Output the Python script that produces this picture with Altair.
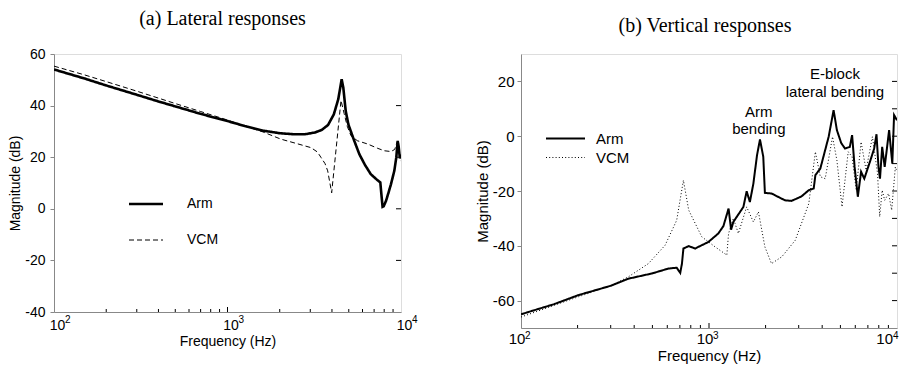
import altair as alt
import pandas as pd

# ---------------- data ----------------
series = ["Arm", "VCM"]

# (a) Lateral responses
a_arm_f = [100, 150, 200, 300, 400, 500, 700, 1000, 1300, 1600, 2000, 2400, 2800, 3200, 3500,
           3800, 4100, 4350, 4550, 4650, 4800, 4970, 5300, 5750, 6200, 6700, 7200, 7600, 7700,
           7830, 7950, 8190, 8450, 8750, 9150, 9400, 9570, 9700, 9850, 10000]
a_arm_db = [54.0, 50.5, 47.8, 44.2, 41.6, 39.7, 36.8, 34.0, 31.8, 30.3, 29.3, 28.9, 28.9, 29.6, 30.6,
            32.5, 36.6, 42.5, 50.2, 47.0, 38.0, 32.8, 27.5, 21.2, 17.0, 13.4, 11.5, 10.2, 6.0,
            0.8, 1.0, 3.0, 6.0, 9.5, 14.7, 20.0, 26.3, 24.0, 19.5, 21.0]
a_vcm_f = [100, 150, 200, 300, 400, 500, 700, 1000, 1300, 1600, 2030, 2500, 3030, 3300, 3459,
           3650, 3780, 3985, 4510, 4700, 4900, 5150, 5600, 6430, 7300, 8000, 8750, 9200, 9450,
           9570, 9750, 10000]
a_vcm_db = [55.3, 51.9, 49.3, 45.6, 42.9, 40.8, 37.7, 34.4, 31.8, 29.8, 27.0, 25.3, 23.7, 22.0, 19.9,
            17.5, 14.7, 6.2, 42.0, 37.0, 32.0, 28.3, 26.4, 25.1, 23.5, 22.5, 22.2, 23.0, 25.5,
            26.3, 22.0, 18.5]

# (b) Vertical responses
b_arm_f = [100, 150, 202, 300, 373, 497, 609, 673, 703, 718, 731, 780, 843, 993, 1121, 1193,
           1271, 1311, 1347, 1524, 1586, 1650, 1722, 1800, 1867, 1944, 1983, 2150, 2535, 2750,
           3100, 3395, 3605, 3680, 3910, 4330, 4600, 4790, 5050, 5290, 5610, 5770, 5950, 6190,
           6440, 6700, 7220, 7560, 7780, 7970, 8120, 8340, 8600, 9080, 9440, 9650, 10000]
b_arm_db = [-65.0, -61.3, -58.0, -54.6, -52.0, -50.1, -48.3, -48.0, -49.9, -46.5, -41.0, -40.1,
            -41.0, -38.6, -35.5, -32.8, -26.4, -34.1, -31.3, -25.8, -20.1, -24.0, -17.3, -7.0,
            -1.2, -7.5, -20.7, -20.9, -23.4, -23.6, -22.0, -19.7, -19.1, -14.2, -11.8, -0.2, 9.5,
            2.2, -2.5, -4.5, -3.9, 0.4, -11.2, -22.1, -13.0, -15.5, -8.8, -4.5, 0.7, -11.2, -15.5,
            -3.9, -11.2, 2.2, -10.0, 7.7, 5.8]
b_vcm_f = [100, 202, 304, 373, 476, 584, 673, 731, 780, 915, 1078, 1244, 1271, 1347, 1433,
           1586, 1722, 1832, 1867, 1983, 2150, 2440, 2875, 3395, 3680, 3910, 4150, 4540, 4790,
           5100, 5500, 5770, 6070, 6440, 6850, 7400, 7880, 8090, 8340, 8600, 9020, 9370, 9800, 10000]
b_vcm_db = [-66.0, -58.6, -54.4, -51.3, -46.5, -39.8, -30.7, -16.1, -27.0, -36.7, -40.4, -43.4,
            -35.5, -30.0, -35.5, -25.8, -31.3, -27.6, -30.7, -40.4, -46.5, -44.0, -38.0, -24.6,
            -5.7, -14.8, -15.5, -0.2, -8.8, -25.8, -5.7, -7.5, -19.7, -2.1, -12.4, -0.2, -13.6,
            -29.4, -19.7, -23.4, -20.9, -27.0, -11.2, -13.0]

x_tick_values = [100, 1000, 10000]
x_exponents = ["2", "3", "4"]
x_minor = [200, 300, 400, 500, 600, 700, 800, 900, 2000, 3000, 4000, 5000, 6000, 7000, 8000, 9000]
a_y_labels = [-40, -20, 0, 20, 40, 60]
a_y_inner = [-20, 0, 20, 40]
b_y_labels = [-60, -40, -20, 0, 20]
b_y_inner = [-60, -50, -40, -30, -20, -10, 0, 10, 20]
notes_text = ["Arm\nbending", "E-block\nlateral bending"]
notes_f = [1841, 4677]
notes_db = [8.9, 22.6]

SANS = "Liberation Sans"
SERIF = "Liberation Serif"


def long_df(arm_f, arm_db, vcm_f, vcm_db):
    d1 = pd.DataFrame({"f": arm_f, "db": arm_db, "s": "Arm"})
    d2 = pd.DataFrame({"f": vcm_f, "db": vcm_db, "s": "VCM"})
    return pd.concat([d1, d2], ignore_index=True)


def panel(df, title, title_dx, ydom, y_labels, y_inner, w, h, fs, leg, dash, widths,
          label_dx, exp_dx, last_exp_dx, last_right, exp_y, exp_fs, label_pad, title_pad,
          ytitle_pad, ylabel_pad, notes=None):
    xs = alt.Scale(type="log", domain=[100, 10000], nice=False)
    ys = alt.Scale(domain=ydom, nice=False, zero=False)
    legend_obj = alt.Legend(
        title=None, orient="none", legendX=leg["x"], legendY=leg["y"],
        symbolType="M-3,0H3", symbolSize=leg["size"], labelFontSize=fs, labelFont=SANS,
        labelOffset=leg["offset"], rowPadding=leg["row"], padding=0, labelColor="black",
        symbolStrokeColor="black",
    )
    label_align = "center"
    if last_right:
        label_align = {"condition": {"test": "datum.value >= 10000", "value": "right"},
                       "value": "center"}
    xaxis = alt.Axis(
        values=x_tick_values, labelExpr="'10'", title="Frequency (Hz)", ticks=False,
        grid=False, labelFontSize=fs, titleFontSize=fs, labelPadding=label_pad,
        titlePadding=title_pad, labelOffset=label_dx, labelAlign=label_align,
        labelFlush=False, titleFontWeight="normal")
    yaxis = alt.Axis(
        values=y_labels, grid=False, tickSize=4, labelPadding=ylabel_pad, title="Magnitude (dB)",
        labelFontSize=fs, titleFontSize=fs, titlePadding=ytitle_pad, titleFontWeight="normal",
        labelExpr="datum.value < 0 ? '-' + abs(datum.value) : '' + datum.value")
    X = lambda: alt.X("f:Q", scale=xs, axis=xaxis)
    Y = lambda: alt.Y("db:Q", scale=ys, axis=yaxis)

    lines = alt.Chart(df).mark_line(clip=True).encode(
        x=X(), y=Y(),
        color=alt.Color("s:N", scale=alt.Scale(domain=series, range=["black", "black"]),
                        legend=legend_obj),
        strokeDash=alt.StrokeDash("s:N", scale=alt.Scale(domain=series, range=dash),
                                  legend=legend_obj),
        strokeWidth=alt.StrokeWidth("s:N", scale=alt.Scale(domain=series, range=widths),
                                    legend=legend_obj),
    )
    yin = alt.Chart(pd.DataFrame({"db": y_inner})).mark_rule(color="black", strokeWidth=1).encode(
        y=Y(), x=alt.value(w - 5), x2=alt.value(w))
    xin_minor = alt.Chart(pd.DataFrame({"f": x_minor})).mark_rule(color="black", strokeWidth=1).encode(
        x=X(), y=alt.value(h - 3), y2=alt.value(h))
    xin_major = alt.Chart(pd.DataFrame({"f": [1000]})).mark_rule(color="black", strokeWidth=1).encode(
        x=X(), y=alt.value(h - 5), y2=alt.value(h))
    exp_df = pd.DataFrame({"f": x_tick_values, "e": x_exponents})
    exps = alt.Chart(exp_df).transform_filter("datum.f < 10000").mark_text(
        align="left", baseline="alphabetic", fontSize=exp_fs, font=SANS, dx=exp_dx, color="black"
    ).encode(x=X(), y=alt.value(h + exp_y), text="e:N")
    exps_last = alt.Chart(exp_df).transform_filter("datum.f >= 10000").mark_text(
        align="left", baseline="alphabetic", fontSize=exp_fs, font=SANS, dx=last_exp_dx, color="black"
    ).encode(x=X(), y=alt.value(h + exp_y), text="e:N")
    layers = [lines, yin, xin_minor, xin_major, exps, exps_last]
    if notes is not None:
        nt = alt.Chart(notes).mark_text(
            lineBreak="\n", align="center", baseline="middle", fontSize=15, font=SANS,
            lineHeight=17.5, color="black"
        ).encode(x=X(), y=Y(), text="t:N")
        layers.append(nt)
    return alt.layer(*layers).properties(
        width=w, height=h,
        title=alt.Title(title, font=SERIF, fontSize=20, fontWeight="normal", offset=18,
                        dx=title_dx, frame="group", anchor="middle", color="black"),
    )


df_a = long_df(a_arm_f, a_arm_db, a_vcm_f, a_vcm_db)
df_b = long_df(b_arm_f, b_arm_db, b_vcm_f, b_vcm_db)
notes_df = pd.DataFrame({"f": notes_f, "db": notes_db, "t": notes_text})

left = panel(df_a, "(a) Lateral responses", -5, [-40, 60], a_y_labels, a_y_inner, 347, 258, 14,
             {"x": 85, "y": 143, "size": 128.4, "offset": 34, "row": 22},
             [[1, 0], [5, 3]], [2.6, 1.0], 3, 11, 11, False, 11, 10, 6, 2, 2, 5)
right = panel(df_b, "(b) Vertical responses", -4, [-70, 30], b_y_labels, b_y_inner, 376, 274, 15,
              {"x": 37, "y": 77, "size": 169, "offset": 23, "row": 3},
              [[1, 0], [1, 2.2]], [2.0, 1.0], -4.5, 4, -4, True, 11, 10, 3, 2, 2, 3,
              notes=notes_df)

chart = alt.hconcat(left, right, spacing=55).resolve_scale(
    color="independent", strokeDash="independent", strokeWidth="independent"
).resolve_legend(
    color="independent", strokeDash="independent", strokeWidth="independent"
).properties(
    padding={"left": 0, "top": 0, "right": 0, "bottom": 0}
).configure_view(stroke="black", strokeWidth=1.3).configure_axis(
    domainColor="black", domainWidth=1.3, tickColor="black", labelColor="black",
    titleColor="black", labelFont=SANS, titleFont=SANS, titleFontWeight="normal"
).configure(background="white")

chart.save("out.html", embed_options={"renderer": "svg", "actions": False})
